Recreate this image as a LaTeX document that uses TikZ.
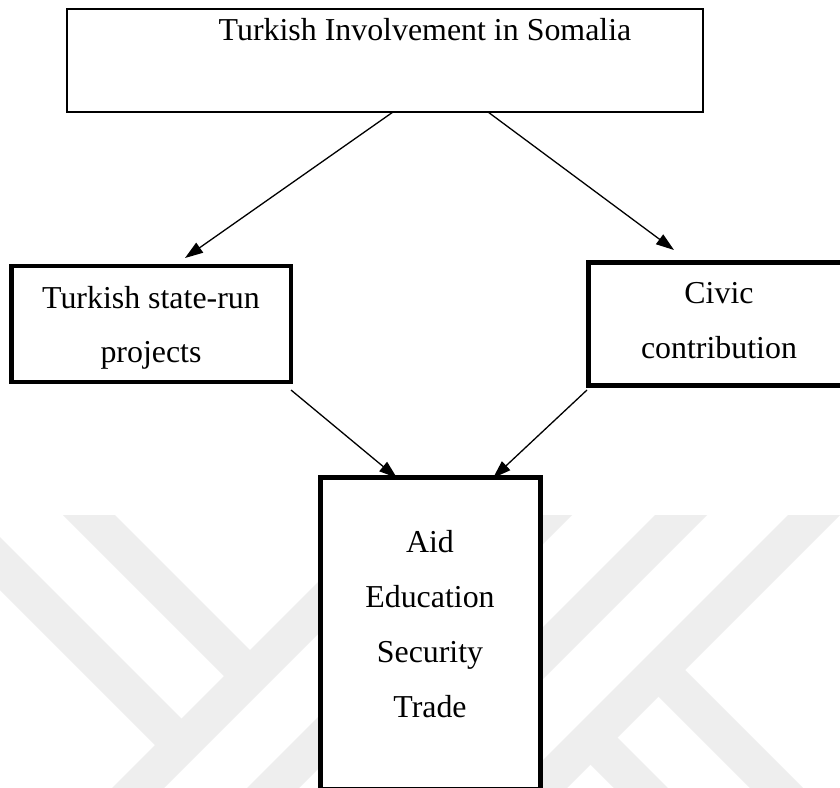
\documentclass[tikz,border=0pt]{standalone}
\usepackage{fontspec}
\setmainfont{Liberation Serif}
\usetikzlibrary{arrows.meta,calc}
\pgfdeclarelayer{bg}
\pgfsetlayers{bg,main}
\definecolor{wm}{RGB}{238,238,238}
\newcommand\txtfont{\fontsize{31.9pt}{55pt}\selectfont}
\tikzset{
  boxbase/.style={draw=black, fill=white, rectangle, inner sep=0pt, outer sep=0pt},
  topbox/.style={boxbase, line width=2pt, minimum width=636pt, minimum height=103pt},
  leftbox/.style={boxbase, line width=4.5pt, minimum width=279.5pt, minimum height=116pt},
  rightbox/.style={boxbase, line width=5pt, minimum width=262pt, minimum height=123pt},
  bottombox/.style={boxbase, line width=5pt, minimum width=220pt, minimum height=311.5pt},
  label/.style={font=\txtfont, anchor=base, inner sep=0pt, outer sep=0pt},
  arr/.style={line width=1.3pt, -{Triangle[length=18pt,width=12pt]}},
}
\begin{document}
\begin{tikzpicture}[x=1pt,y=-1pt]
\useasboundingbox (0,0) rectangle (840,787);
\clip (0,0) rectangle (840,787);
\begin{pgfonlayer}{bg}
\fill[white] (0,0) rectangle (840,787);
% watermark
\fill[wm] (385,515) -- (437,515) -- (52,900) -- (0,900) -- cycle;
\fill[wm] (520,515) -- (572,515) -- (187,900) -- (135,900) -- cycle;
\fill[wm] (655,515) -- (707,515) -- (322,900) -- (270,900) -- cycle;
\fill[wm] (788,515) -- (840,515) -- (455,900) -- (403,900) -- cycle;
\fill[wm] (63,515) -- (115,515) -- (260,660) -- (234,686) -- cycle;
\fill[wm] (-22,515) -- (191.5,728.5) -- (165,755) -- (-75,515) -- cycle;
\fill[wm] (675,660) -- (915,900) -- (862,900) -- (648.5,686.5) -- cycle;
\fill[wm] (607.5,727.5) -- (780,900) -- (726,900) -- (580.5,754.5) -- cycle;
\end{pgfonlayer}
% boxes
\node[topbox] (top) at (385,60.5) {};
\node[label] (title) at (425,40) {Turkish Involvement in Somalia};
\node[leftbox] (left) at (151.25,324) {};
\node[label] (l1) at (151,308) {Turkish state-run};
\node[label] (l2) at (151,362) {projects};
\node[rightbox] (right) at (719,324) {};
\node[label] (r1) at (719,303) {Civic};
\node[label] (r2) at (719,358) {contribution};
\node[bottombox] (bottom) at (430,633.25) {};
\node[label] (b1) at (430,552) {Aid};
\node[label] (b2) at (430,607) {Education};
\node[label] (b3) at (430,662) {Security};
\node[label] (b4) at (430,717) {Trade};
% connectors
\draw[arr] ([xshift=8pt]top.south) -- ([xshift=33.75pt,yshift=8pt]left.north);
\draw[arr] ([xshift=103pt]top.south) -- ([xshift=-45pt,yshift=12.5pt]right.north);
\begin{pgfonlayer}{bg}
\draw[arr] ([yshift=-8pt]left.south east) -- ([xshift=-33pt,yshift=-0.5pt]bottom.north);
\draw[arr] ([xshift=-1pt,yshift=-4.5pt]right.south west) -- ([xshift=63pt,yshift=-0.5pt]bottom.north);
\end{pgfonlayer}
\end{tikzpicture}
\end{document}
